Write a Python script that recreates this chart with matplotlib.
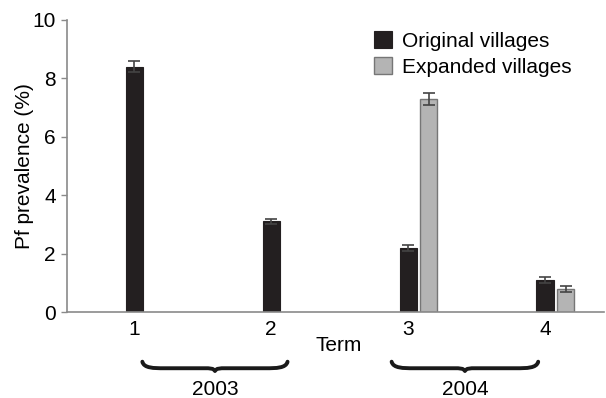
import numpy as np
import matplotlib
matplotlib.use('Agg')
import matplotlib.pyplot as plt
from matplotlib.path import Path
from matplotlib.patches import PathPatch

plt.rcParams['font.family'] = ['Liberation Sans', 'DejaVu Sans']

# Pf prevalence by school term
terms = [1, 2, 3, 4]
orig_vals = [8.4, 3.1, 2.2, 1.1]
orig_err = [0.2, 0.1, 0.1, 0.1]
exp_terms = [3, 4]
exp_vals = [7.3, 0.8]
exp_err = [0.2, 0.1]

years = ['2003', '2004']
year_spans = [(1.06, 2.12), (2.88, 3.95)]

ORIG = '#231f20'
EXP = '#b4b4b4'
EXP_EDGE = '#767676'
AXIS = '#8a8a8a'
FS = 15

fig = plt.figure(figsize=(6.06, 3.98), dpi=100)
ax = fig.add_axes([0.1106, 0.216, 0.886, 0.734])

w = 0.125
ebar = dict(ecolor='#444444', elinewidth=1.2, capsize=4, capthick=1.2)
ax.bar(terms, orig_vals, width=w, color=ORIG, edgecolor=ORIG, linewidth=0.8,
       yerr=orig_err, error_kw=ebar, label='Original villages', zorder=2)
ax.bar([t + 0.15 for t in exp_terms], exp_vals, width=w, color=EXP, edgecolor=EXP_EDGE,
       linewidth=1.0, yerr=exp_err, error_kw=ebar, label='Expanded villages', zorder=2)

ax.set_xlim(0.51, 4.43)
ax.set_ylim(0, 10)
ax.set_yticks([0, 2, 4, 6, 8, 10])
ax.set_xticks(terms)
ax.tick_params(axis='x', length=0, labelsize=FS, pad=6)
ax.tick_params(axis='y', length=4, width=1, color=AXIS, labelsize=FS, pad=4)
for s in ['top', 'right']:
    ax.spines[s].set_visible(False)
for s in ['left', 'bottom']:
    ax.spines[s].set_color(AXIS)
    ax.spines[s].set_linewidth(1.2)

ax.set_ylabel('Pf prevalence (%)', fontsize=FS, labelpad=-1)
ax.text(2.49, -1.14, 'Term', fontsize=FS, ha='center', va='center', clip_on=False)

ax.legend(loc='upper left', bbox_to_anchor=(0.572, 0.961), frameon=False, fontsize=FS,
          handlelength=0.85, handleheight=0.85, handletextpad=0.5, labelspacing=0.3,
          borderpad=0.0, borderaxespad=0.0)


def brace(ax, x0, x1, ytop, h):
    # curly brace with ends turned up and the tip pointing down
    xm = (x0 + x1) / 2
    ym = ytop - h
    yb = ytop - h * 0.7
    dx = (x1 - x0)
    verts = [
        (x0, ytop),
        (x0 + dx * 0.01, yb), (x0 + dx * 0.08, yb), (x0 + dx * 0.15, yb),
        (xm - dx * 0.08, yb),
        (xm - dx * 0.03, yb), (xm - dx * 0.01, yb), (xm, ym),
        (xm + dx * 0.01, yb), (xm + dx * 0.03, yb), (xm + dx * 0.08, yb),
        (x1 - dx * 0.15, yb),
        (x1 - dx * 0.08, yb), (x1 - dx * 0.01, yb), (x1, ytop),
    ]
    codes = [Path.MOVETO,
             Path.CURVE4, Path.CURVE4, Path.CURVE4,
             Path.LINETO,
             Path.CURVE4, Path.CURVE4, Path.CURVE4,
             Path.CURVE4, Path.CURVE4, Path.CURVE4,
             Path.LINETO,
             Path.CURVE4, Path.CURVE4, Path.CURVE4]
    p = PathPatch(Path(verts, codes), facecolor='none', edgecolor='#1a1a1a',
                  linewidth=2.8, clip_on=False, capstyle='round', joinstyle='round')
    ax.add_patch(p)


for (x0, x1), yr in zip(year_spans, years):
    brace(ax, x0, x1, -1.70, 0.32)
    ax.text((x0 + x1) / 2, -2.64, yr, fontsize=FS, ha='center', va='center', clip_on=False)

fig.savefig('out.png', dpi=100, facecolor='white')
